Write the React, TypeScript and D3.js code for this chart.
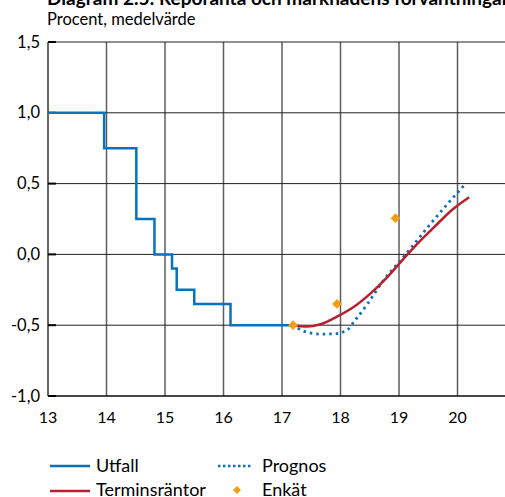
import React from "react";
import * as d3 from "d3";

const utfallX = [13.0, 13.96, 13.96, 14.51, 14.51, 14.82, 14.82, 15.12, 15.12, 15.2, 15.2, 15.5, 15.5, 16.12, 16.12, 17.18];
const utfallY = [1.0, 1.0, 0.75, 0.75, 0.25, 0.25, 0.0, 0.0, -0.1, -0.1, -0.25, -0.25, -0.35, -0.35, -0.5, -0.5];

const prognosX = [17.17, 17.43, 17.66, 17.91, 18.11, 18.23, 18.46, 18.74, 19.03, 19.26, 19.54, 19.83, 20.11];
const prognosY = [-0.5, -0.55, -0.563, -0.56, -0.535, -0.476, -0.35, -0.18, -0.04, 0.075, 0.216, 0.357, 0.486];

const terminX = [17.17, 17.43, 17.66, 17.94, 18.23, 18.51, 18.8, 19.08, 19.37, 19.57, 19.94, 20.2];
const terminY = [-0.5, -0.51, -0.493, -0.44, -0.37, -0.277, -0.16, -0.03, 0.099, 0.18, 0.326, 0.404];

const enkatX = [17.19, 17.94, 18.94];
const enkatY = [-0.5, -0.35, 0.256];

const xTicks = [13, 14, 15, 16, 17, 18, 19, 20];
const yTicks = [1.5, 1.0, 0.5, 0.0, -0.5, -1.0];

const title = "Diagram 2.5: Reporänta och marknadens förväntningar";
const subtitle = "Procent, medelvärde";

const BLUE = "#0a72bd";
const RED = "#b9202e";
const ORANGE = "#f59c10";
const FONT = "Lato, 'Open Sans', sans-serif";

export default function App() {
  const x = d3.scaleLinear().domain([13, 20]).range([48, 457.5]);
  const y = d3.scaleLinear().domain([-1, 1.5]).range([396, 42]);
  const fmt = (v: number) => d3.format(".1f")(v).replace(".", ",").replace("−", "-");

  const line = d3
    .line<[number, number]>()
    .x((d) => x(d[0]))
    .y((d) => y(d[1]));
  const smooth = d3
    .line<[number, number]>()
    .x((d) => x(d[0]))
    .y((d) => y(d[1]))
    .curve(d3.curveMonotoneX);

  const utfall = utfallX.map((v, i) => [v, utfallY[i]] as [number, number]);
  const prognos = prognosX.map((v, i) => [v, prognosY[i]] as [number, number]);
  const termin = terminX.map((v, i) => [v, terminY[i]] as [number, number]);

  const diamond = d3.symbol().type(d3.symbolDiamond2).size(60)();

  return (
    <svg width={505} height={497} style={{ position: "absolute", left: 0, top: 0, background: "#fff" }}>
      <text x={47} y={5} fontFamily={FONT} fontSize={19} fontWeight="bold" fill="#000">
        {title}
      </text>
      <text x={47} y={25} fontFamily={FONT} fontSize={16.5} fill="#000">
        {subtitle}
      </text>

      {/* vertical grid */}
      {xTicks.slice(1).map((t) => (
        <line key={"vx" + t} x1={x(t)} x2={x(t)} y1={y(1.5)} y2={y(-1)} stroke="#5e5e5e" strokeWidth={1.5} />
      ))}
      {/* horizontal grid */}
      {yTicks.map((t) => (
        <line key={"hy" + t} x1={x(13)} x2={510} y1={y(t)} y2={y(t)} stroke="#222" strokeWidth={1} />
      ))}
      {/* y tick marks */}
      {yTicks.map((t) => (
        <line key={"ty" + t} x1={x(13)} x2={x(13) + 8} y1={y(t)} y2={y(t)} stroke="#000" strokeWidth={2} />
      ))}
      {/* axes */}
      <line x1={x(13)} x2={x(13)} y1={y(1.5)} y2={y(-1)} stroke="#000" strokeWidth={1.2} />
      <line x1={x(13)} x2={510} y1={y(-1)} y2={y(-1)} stroke="#000" strokeWidth={1.2} />

      {yTicks.map((t) => (
        <text key={"ly" + t} x={40} y={y(t) + 5.5} textAnchor="end" fontFamily={FONT} fontSize={16.5} fill="#000">
          {fmt(t)}
        </text>
      ))}
      {xTicks.map((t) => (
        <text key={"lx" + t} x={x(t)} y={423} textAnchor="middle" fontFamily={FONT} fontSize={16} fill="#000">
          {t}
        </text>
      ))}

      <path d={line(utfall) || ""} fill="none" stroke={BLUE} strokeWidth={2.5} />
      <path d={smooth(prognos) || ""} fill="none" stroke={BLUE} strokeWidth={2.8} strokeDasharray="2.5 4" />
      <path d={smooth(termin) || ""} fill="none" stroke={RED} strokeWidth={2.5} />
      {enkatX.map((v, i) => (
        <path key={"e" + i} d={diamond || ""} transform={`translate(${x(v)},${y(enkatY[i])})`} fill={ORANGE} />
      ))}

      {/* legend */}
      <line x1={50} x2={90} y1={466} y2={466} stroke={BLUE} strokeWidth={2.5} />
      <text x={96} y={472} fontFamily={FONT} fontSize={18} fill="#000">Utfall</text>
      <line x1={218} x2={253} y1={466} y2={466} stroke={BLUE} strokeWidth={2.5} strokeDasharray="2.5 2.5" />
      <text x={262} y={472} fontFamily={FONT} fontSize={18} fill="#000">Prognos</text>
      <line x1={50} x2={90} y1={491} y2={491} stroke={RED} strokeWidth={2.5} />
      <text x={96} y={496} fontFamily={FONT} fontSize={18} fill="#000">Terminsräntor</text>
      <path d={d3.symbol().type(d3.symbolDiamond2).size(40)() || ""} transform="translate(237,490)" fill={ORANGE} />
      <text x={262} y={496} fontFamily={FONT} fontSize={18} fill="#000">Enkät</text>
    </svg>
  );
}
